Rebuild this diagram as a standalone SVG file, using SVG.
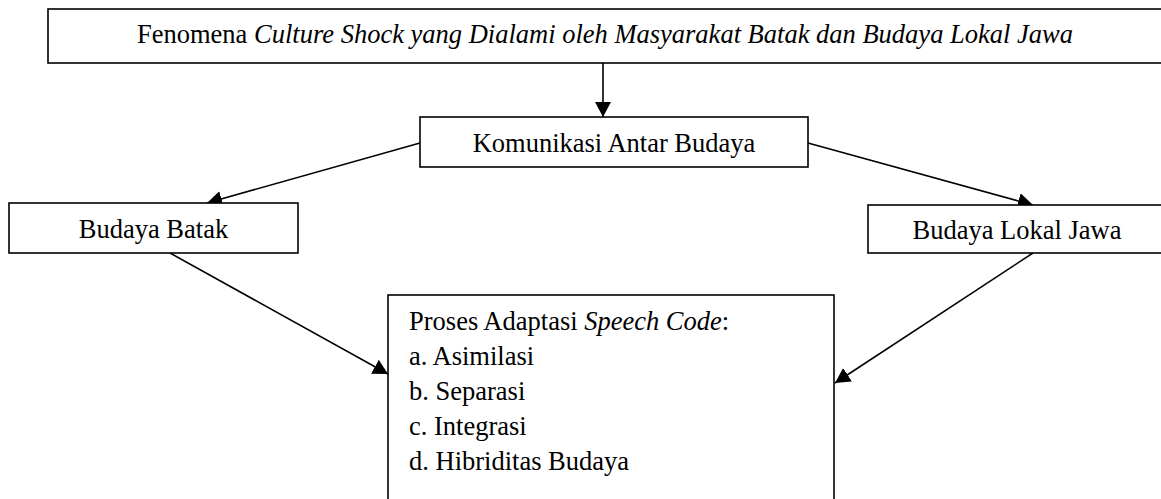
<svg xmlns="http://www.w3.org/2000/svg" width="1161" height="499" viewBox="0 0 1161 499">
  <style>
    .box { fill: #ffffff; stroke: #000000; stroke-width: 1.6; }
    .lbl { font-family: "Liberation Serif", "Times New Roman", serif; font-size: 26.5px; fill: #000000; }
    .mid { text-anchor: middle; }
    .it { font-style: italic; }
    .edge { fill: none; stroke: #000000; stroke-width: 1.6; marker-end: url(#head); }
  </style>
  <defs>
    <marker id="head" markerUnits="userSpaceOnUse" markerWidth="16" markerHeight="16" refX="15" refY="8" orient="auto">
      <path d="M0,0 L15,8 L0,16 Z" fill="#000000"/>
    </marker>
  </defs>

  <rect width="1161" height="499" fill="#ffffff"/>

  <g id="connectors">
    <line class="edge" x1="603" y1="63" x2="603" y2="117"/>
    <line class="edge" x1="420" y1="143" x2="207" y2="203"/>
    <line class="edge" x1="808" y1="143" x2="1033" y2="205"/>
    <line class="edge" x1="170" y1="253" x2="388" y2="374"/>
    <line class="edge" x1="1033" y1="253" x2="835" y2="383"/>
  </g>

  <g id="fenomena">
    <rect class="box" x="48" y="9" width="1120" height="54"/>
    <text class="lbl" x="137" y="43">Fenomena <tspan class="it">Culture Shock yang Dialami oleh Masyarakat Batak dan Budaya Lokal Jawa</tspan></text>
  </g>

  <g id="komunikasi">
    <rect class="box" x="420" y="117" width="388" height="50"/>
    <text class="lbl mid" x="614" y="152">Komunikasi Antar Budaya</text>
  </g>

  <g id="budaya-batak">
    <rect class="box" x="9" y="203" width="289" height="50"/>
    <text class="lbl mid" x="153.5" y="238">Budaya Batak</text>
  </g>

  <g id="budaya-jawa">
    <rect class="box" x="868" y="205" width="300" height="48"/>
    <text class="lbl mid" x="1017" y="239">Budaya Lokal Jawa</text>
  </g>

  <g id="adaptasi">
    <rect class="box" x="388" y="295" width="446" height="220"/>
    <text class="lbl" x="409" y="330">Proses Adaptasi <tspan class="it">Speech Code</tspan>:</text>
    <text class="lbl" x="409" y="365">a. Asimilasi</text>
    <text class="lbl" x="409" y="400">b. Separasi</text>
    <text class="lbl" x="409" y="435">c. Integrasi</text>
    <text class="lbl" x="409" y="470">d. Hibriditas Budaya</text>
  </g>
</svg>
